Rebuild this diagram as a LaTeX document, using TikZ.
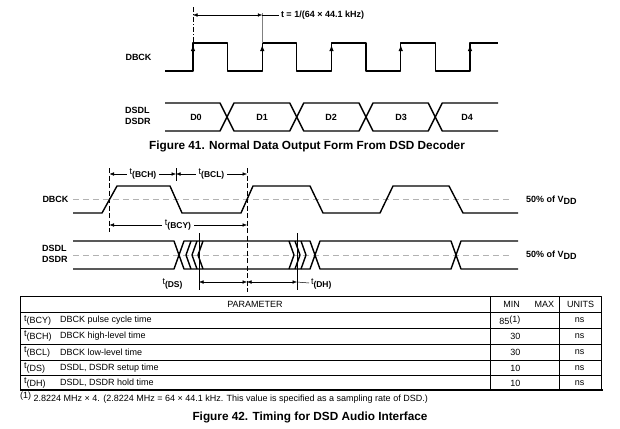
\documentclass[tikz,border=0pt]{standalone}
\usepackage{fontspec}
\setmainfont{Liberation Sans}
\usetikzlibrary{arrows.meta}
\newcommand{\tsb}[1]{{\fontsize{9bp}{10bp}\selectfont t}\raisebox{-0.55ex}{\fontsize{8.5bp}{9bp}\selectfont\bfseries(#1)}}
\newcommand{\vdd}{V\raisebox{-0.5ex}{DD}}
\begin{document}
\begin{tikzpicture}[>={Latex[length=4.5bp,width=3.6bp]},line join=bevel,x=1bp,y=-1bp,
  wave/.style={line width=1.4bp},
  edgetip/.style={-{Latex[length=6bp,width=4.5bp]},line width=1bp},
  midline/.style={gray!60,line width=0.6bp,dash pattern=on 6bp off 4bp},
  hair/.style={line width=0.5bp},
  dashv/.style={line width=0.5bp,dash pattern=on 5bp off 2.5bp},
  sig/.style={font=\fontsize{9bp}{11.5bp}\selectfont\bfseries,align=left,inner sep=0pt},
  txt/.style={font=\fontsize{9bp}{11bp}\selectfont,inner sep=0pt},
  dimlbl/.style={fill=white,inner xsep=3bp,inner ysep=1bp},
  captxt/.style={font=\fontsize{11.8bp}{14bp}\selectfont\bfseries,inner sep=0pt}]
\useasboundingbox (0,0) rectangle (620,428);
%% Figure 41
\node (f41_dbck) at (138.5,57) [sig] {DBCK};
\node (f41_dsd) at (125,116) [sig,anchor=west] {DSDL\\DSDR};
\draw [wave] (165,71) -- (193,71) -- (193,43) -- (227.5,43) -- (227.5,71) -- (262.25,71) -- (262.25,43) -- (296.75,43) -- (296.75,71) -- (331.5,71) -- (331.5,43) -- (366,43) -- (366,71) -- (400.75,71) -- (400.75,43) -- (435.25,43) -- (435.25,71) -- (470,71) -- (470,43) -- (498,43);
\draw [edgetip] (193,60) -- (193,45);
\draw [edgetip] (262.25,60) -- (262.25,45);
\draw [edgetip] (331.5,60) -- (331.5,45);
\draw [edgetip] (400.75,60) -- (400.75,45);
\draw [edgetip] (470,60) -- (470,45);
%
\coordinate (f41_a) at (193,15);
\coordinate (f41_b) at (262.25,15);
\draw [hair,dash pattern=on 5bp off 2bp on 1bp off 2bp] (193,7) -- (193,43);
\draw [hair,gray] (262.25,13) -- (262.25,43);
\draw [hair,<->] (f41_a) -- (f41_b);
\node (f41_t) at (279,15) [sig,anchor=west,outer sep=2bp] {t = 1/(64 × 44.1 kHz)};
\draw [hair] (f41_b) -- (f41_t);
%
\draw [wave] (165,103) -- (220,103) -- (234,131) -- (289.75,131) -- (303.75,103) -- (359,103) -- (373,131) -- (428.25,131) -- (442.25,103) -- (498,103);
\draw [wave] (165,131) -- (220,131) -- (234,103) -- (289.75,103) -- (303.75,131) -- (359,131) -- (373,103) -- (428.25,103) -- (442.25,131) -- (498,131);
\node (d0) at (196,117) [sig] {D0};
\node (d1) at (262,117) [sig] {D1};
\node (d2) at (331,117) [sig] {D2};
\node (d3) at (401,117) [sig] {D3};
\node (d4) at (467,117) [sig] {D4};
\node (cap41) at (307,146) [captxt] {Figure 41. Normal Data Output Form From DSD Decoder};
%% Figure 42
\node (f42_dbck) at (55.5,199.5) [sig] {DBCK};
\node (f42_dsd) at (42,254) [sig,anchor=west] {DSDL\\DSDR};
\draw [midline] (73,199.5) -- (513,199.5);
\draw [midline] (73,255) -- (513,255);
\node (vdd_a) at (526,200) [sig,anchor=west] {50\% of \vdd};
\node (vdd_b) at (526,255.5) [sig,anchor=west] {50\% of \vdd};
\draw [wave] (73,213) -- (102,213) -- (117,186) -- (170,186) -- (182,213) -- (241,213) -- (253,186) -- (310,186) -- (323,213) -- (380,213) -- (393,186) -- (449,186) -- (463,213) -- (518,213);
%
\draw [wave] (73,241) -- (174,241) -- (184,269) -- (310,269) -- (320,241) -- (451,241) -- (461,269) -- (518,269);
\draw [wave] (73,269) -- (174,269) -- (184,241) -- (310,241) -- (320,269) -- (451,269) -- (461,241) -- (518,241);
\draw [wave] (191,241) -- (186,255) -- (191,269);
\draw [wave] (197,241) -- (192,255) -- (197,269);
\draw [wave] (203,241) -- (198,255) -- (203,269);
\draw [wave] (289,241) -- (294,255) -- (289,269);
\draw [wave] (295,241) -- (300,255) -- (295,269);
\draw [wave] (301,241) -- (306,255) -- (301,269);
%
\coordinate (bch_a) at (109.5,174);
\coordinate (bch_b) at (176,174);
\coordinate (bcl_b) at (247,174);
\coordinate (bcy_a) at (109.5,225);
\coordinate (bcy_b) at (247,225);
\coordinate (ds_a) at (199,282);
\coordinate (ds_b) at (247,282);
\coordinate (dh_b) at (297,282);
\draw [dashv] (109.5,168) -- (109.5,232);
\draw [hair] (176,168) -- (176,181);
\draw [dashv] (247,168) -- (247,292);
\draw [hair] (199,233) -- (199,290);
\draw [hair] (297,233) -- (297,290);
\draw [hair,<->] (bch_a) -- (bch_b);
\draw [hair,<->] (bch_b) -- (bcl_b);
\draw [hair,<->] (bcy_a) -- (bcy_b);
\draw [hair,<->] (ds_a) -- (ds_b);
\draw [hair,<->] (ds_b) -- (dh_b);
\node (t_bch) at (143,174) [dimlbl] {\tsb{BCH}};
\node (t_bcl) at (211.5,174) [dimlbl] {\tsb{BCL}};
\node (t_bcy) at (178,225) [dimlbl] {\tsb{BCY}};
\node (t_ds) at (172.5,284) [inner sep=0pt] {\tsb{DS}};
\node (t_dh) at (309,284) [inner sep=0pt,anchor=west,outer sep=2bp] {\tsb{DH}};
\draw [hair] (dh_b) -- (t_dh);
%% Table
\draw [line width=0.8bp] (20.7,390) -- (20.7,296.7) -- (601.7,296.7) -- (601.7,390);
\draw [line width=1.8bp] (20,390) -- (602.5,390);
\draw [line width=0.8bp] (20.7,312.3) -- (601.7,312.3);
\draw [line width=0.8bp] (20.7,328.3) -- (601.7,328.3);
\draw [line width=0.8bp] (20.7,344) -- (601.7,344);
\draw [line width=0.8bp] (20.7,360) -- (601.7,360);
\draw [line width=0.8bp] (20.7,375.7) -- (601.7,375.7);
\draw [line width=0.8bp] (490.7,296.7) -- (490.7,390);
\draw [line width=0.8bp] (559.3,296.7) -- (559.3,390);
\node (h_par) at (255,304.5) [txt] {PARAMETER};
\node (h_min) at (511.7,304.5) [txt] {MIN};
\node (h_max) at (544.3,304.5) [txt] {MAX};
\node (h_units) at (580.5,304.5) [txt] {UNITS};
%
\node (s_bcy) at (24,320.3) [txt,anchor=west] {t\raisebox{-0.5ex}{(BCY)}};
\node (s_bch) at (24,336.2) [txt,anchor=west] {t\raisebox{-0.5ex}{(BCH)}};
\node (s_bcl) at (24,352) [txt,anchor=west] {t\raisebox{-0.5ex}{(BCL)}};
\node (s_ds) at (24,367.9) [txt,anchor=west] {t\raisebox{-0.5ex}{(DS)}};
\node (s_dh) at (24,383) [txt,anchor=west] {t\raisebox{-0.5ex}{(DH)}};
\node (p_bcy) at (60,320.3) [txt,anchor=west] {DBCK pulse cycle time};
\node (p_bch) at (60,336.2) [txt,anchor=west] {DBCK high-level time};
\node (p_bcl) at (60,352) [txt,anchor=west] {DBCK low-level time};
\node (p_ds) at (60,367.9) [txt,anchor=west] {DSDL, DSDR setup time};
\node (p_dh) at (60,383) [txt,anchor=west] {DSDL, DSDR hold time};
\node (v_bcy) at (520.5,320.3) [txt,anchor=east] {85\raisebox{0.5ex}{(1)}};
\node (v_bch) at (520.5,336.2) [txt,anchor=east] {30};
\node (v_bcl) at (520.5,352) [txt,anchor=east] {30};
\node (v_ds) at (520.5,367.9) [txt,anchor=east] {10};
\node (v_dh) at (520.5,383) [txt,anchor=east] {10};
\node (u_bcy) at (579.5,320.3) [txt] {ns};
\node (u_bch) at (579.5,336.2) [txt] {ns};
\node (u_bcl) at (579.5,352) [txt] {ns};
\node (u_ds) at (579.5,367.9) [txt] {ns};
\node (u_dh) at (579.5,383) [txt] {ns};
\node (note) at (20,397.5) [txt,anchor=west] {\raisebox{0.6ex}{(1)} 2.8224 MHz × 4. (2.8224 MHz = 64 × 44.1 kHz. This value is specified as a sampling rate of DSD.)};
\node (cap42) at (310,417) [captxt] {Figure 42. Timing for DSD Audio Interface};
%
\end{tikzpicture}
\end{document}
